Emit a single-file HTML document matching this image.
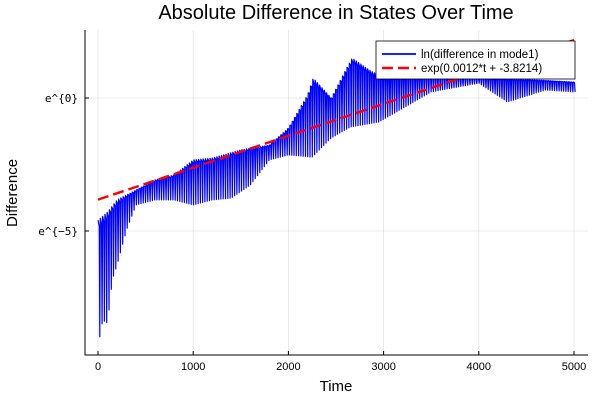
<!DOCTYPE html>
<html><head><meta charset="utf-8"><style>
body{margin:0;background:#fff;}
svg{display:block;font-family:"Liberation Sans","DejaVu Sans",sans-serif;}
</style></head><body>
<svg id="c" width="600" height="400">
<text x="336" y="19" text-anchor="middle" font-size="20">Absolute Difference in States Over Time</text>
<g id="grid"></g>
<g id="series"></g>
<g id="axes"></g>
<text x="336" y="391" text-anchor="middle" font-size="15">Time</text>
<text transform="translate(17,193) rotate(-90)" text-anchor="middle" font-size="15">Difference</text>
<g>
<rect x="376" y="41" width="199" height="38" fill="#fff" stroke="#000" stroke-width="0.8"/>
<line x1="382" y1="54" x2="416" y2="54" stroke="#0000ff" stroke-width="1.8"/>
<text x="421" y="58" font-size="11.5">ln(difference in mode1)</text>
<line x1="382" y1="68" x2="416" y2="68" stroke="#ff0000" stroke-width="2.4" stroke-dasharray="11,5"/>
<text x="421" y="72" font-size="11.5">exp(0.0012*t + -3.8214)</text>
</g>
</svg>
<script>
const xTicks=[0,1000,2000,3000,4000,5000];
const yTicks=[0,-5];
const yTickLabels=["e^{0}","e^{\u22125}"];
const upperT=[0,100,200,400,600,800,1000,1200,1500,1800,2000,2200,2260,2450,2600,2670,2850,3000,3500,4000,4500,5000];
const upperV=[-4.59,-4.29,-3.83,-3.46,-3.08,-2.89,-2.33,-2.26,-1.95,-1.77,-1.13,0.11,0.75,0.0,1.05,1.5,1.05,0.75,0.8,0.75,0.7,0.6];
const lowerT=[0,50,100,150,200,300,400,600,800,1000,1200,1400,1600,1800,2000,2250,2450,2650,2950,3170,3500,4000,4300,4700,5000];
const lowerV=[-9.36,-8.35,-8.46,-6.84,-6.28,-4.96,-4.02,-3.83,-3.83,-4.02,-3.83,-3.76,-3.27,-2.33,-2.14,-2.22,-1.5,-1.09,-0.9,-0.45,0.23,0.56,-0.15,0.3,0.23];
const fitSlope=0.0012, fitIntercept=-3.8214;

const NS="http://www.w3.org/2000/svg";
const X=t=>98+t*(574-98)/5000;
const Y=v=>98-v*26.6;
function mk(tag,attrs,parent){const e=document.createElementNS(NS,tag);for(const k in attrs)e.setAttribute(k,attrs[k]);parent.appendChild(e);return e;}
function interp(ts,vs,t){for(let i=0;i<ts.length-1;i++){if(t<=ts[i+1]){const f=(t-ts[i])/(ts[i+1]-ts[i]);return vs[i]+f*(vs[i+1]-vs[i]);}}return vs[vs.length-1];}
const grid=document.getElementById('grid'),axes=document.getElementById('axes'),series=document.getElementById('series');
xTicks.forEach(t=>{
 const g=mk('line',{x1:X(t),x2:X(t),y1:30,y2:355,stroke:'#000','stroke-opacity':0.1,'stroke-width':0.8},grid);
 
 mk('line',{x1:X(t),x2:X(t),y1:355,y2:351,stroke:'#000'},axes);
 const l=mk('text',{x:X(t),y:370,'text-anchor':'middle','font-size':11},axes);l.textContent=t;
 
});
yTicks.forEach((v,i)=>{
 const g=mk('line',{x1:85,x2:588,y1:Y(v),y2:Y(v),stroke:'#000','stroke-opacity':0.1,'stroke-width':0.8},grid);
 
 mk('line',{x1:85,x2:89,y1:Y(v),y2:Y(v),stroke:'#000'},axes);
 const l=mk('text',{x:78,y:Y(v)+4,'text-anchor':'end','font-size':11,'font-family':'DejaVu Sans Mono, Liberation Mono, monospace'},axes);l.textContent=yTickLabels[i];
 
});
const ax=mk('path',{d:'M85,30 V355 H588',fill:'none',stroke:'#000','stroke-width':1},axes);

let d='';
const P=24;
for(let t=0;t<=5000;t+=P){
 const u1=interp(upperT,upperV,t), u2=interp(upperT,upperV,t+P*0.55);
 const lo=interp(lowerT,lowerV,t+P*0.8);
 const mid=(u2*0.8+lo*0.2);
 d+=(t?'L':'M')+X(t).toFixed(1)+','+Y(u1).toFixed(1);
 d+='L'+X(t+P*0.55).toFixed(1)+','+Y(mid*0.3+u2*0.7).toFixed(1);
 d+='L'+X(t+P*0.8).toFixed(1)+','+Y(lo).toFixed(1);
}
const p=mk('path',{d:d,fill:'none',stroke:'#0000ff','stroke-width':1.2,'stroke-linejoin':'round'},series);

const f=mk('line',{x1:X(0),y1:Y(fitIntercept),x2:X(5000),y2:Y(fitIntercept+fitSlope*5000),stroke:'#ff0000','stroke-width':2.4,'stroke-dasharray':'11,5'},series);

</script>
</body></html>
